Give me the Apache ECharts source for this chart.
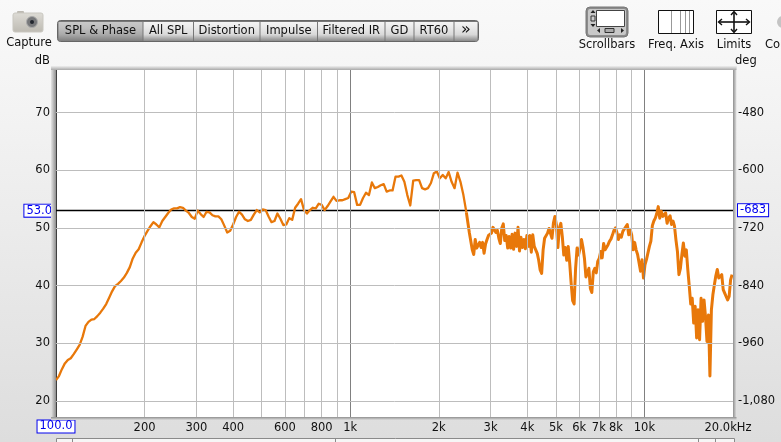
<!DOCTYPE html>
<html><head><meta charset="utf-8">
<style>
html,body{margin:0;padding:0;width:781px;height:442px;overflow:hidden;background:linear-gradient(180deg,#f9f9f9 0%,#f3f3f3 25%,#e6e6e6 70%,#dddddd 100%);}
#c{width:781px;height:442px;}
</style>
<script src="https://cdn.jsdelivr.net/npm/echarts@6/dist/echarts.min.js"></script>
</head><body><div id="c"></div>
<script>
// SPL in dB on a 1/30-octave grid starting at 100 Hz
const lowBandDb = [
23.6,24.3,25.5,26.5,27.1,27.4,28.1,28.9,29.7,31.1,
33.0,33.7,34.1,34.2,34.7,35.3,36.0,36.8,37.9,39.0,
39.9,40.3,40.8,41.4,42.2,43.2,44.7,45.7,46.3,47.5,
48.6,49.5,50.3,51.0,50.6,50.1,51.2,51.9,52.6,53.2,
53.4,53.4,53.6,53.5,53.0,52.6,51.9,51.6,
53.0,52.4,
51.9,52.8,52.7,52.2,52.0,52.0,51.5,50.4,49.2,49.5,
50.6,51.9,52.8,52.3,51.5,51.2,51.4,52.3,53.1,52.7,
53.2,53.1,52.0,51.0,51.2,52.5,51.6,50.5,50.6,51.7,
51.4,53.5,54.2,55.0,53.1,52.5,53.1,53.5,53.4,54.2,
54.0,53.1,53.8,54.6,55.4,54.7,54.8,54.8,55.0,55.2,
56.3,56.2,54.0,54.0,55.2,56.1,55.7,57.9,56.9,57.1,
57.4,57.6,56.3,56.5,56.5,58.9,58.9,59.1,58.0,55.7,
53.9,58.2,58.3,58.3,56.9,56.7,56.9,57.8,59.5,59.8,
58.6,59.2,58.6,59.7,58.0,56.9,59.6,58.0,55.7,52.7
];
// SPL in dB on a 1/60-octave grid, continuing from the low band
const highBandDb = [
49.2,48.9,46.2,45.4,48.0,46.5,47.0,47.5,46.6,47.5,
45.6,47.2,48.0,48.7,48.5,49.1,50.1,50.4,49.2,49.6,
48.2,47.3,50.0,50.7,47.8,48.7,46.5,48.5,46.5,48.9,
46.3,49.1,46.8,50.1,46.0,48.4,46.6,48.0,46.4,48.7,
46.8,48.7,45.8,48.8,46.8,46.5,45.6,44.4,42.7,42.1,
46.2,48.2,48.5,49.1,49.9,49.7,48.2,50.9,52.0,50.5,
46.6,50.0,50.8,48.5,45.3,46.6,44.4,46.8,43.9,40.4,
37.4,36.8,43.0,46.5,45.3,46.5,48.0,46.6,44.7,41.5,
42.1,43.0,39.5,38.8,42.4,43.0,
42.2,44.2,44.7,45.9,44.8,47.3,46.2,46.3,47.1,47.7,
48.1,48.8,49.6,50.0,49.2,48.0,48.8,48.4,49.4,49.2,
50.2,50.6,48.8,49.7,48.8,46.2,47.5,46.2,45.4,45.7,
42.5,44.5,41.3,43.6,44.5,44.5,46.8,47.7,50.4,51.2,
51.7,52.5,53.7,51.7,52.9,52.0,51.7,52.6,50.8,51.7,
52.1,50.6,51.2,50.3,47.9,45.9,41.9,43.0,45.4,47.4,
45.1,46.2,42.8,39.9,36.8,37.8,33.5,36.4,30.9,35.8,
30.6,37.8,33.8,37.5,34.6,30.3,34.9,24.3,35.8,38.4,
40.1,41.7,42.8,41.3,41.3,41.9,39.3,38.7,38.4,37.5,
38.1,41.0,41.9
];
const freqTicks = [200,300,400,500,600,700,800,900,1000,2000,3000,4000,5000,6000,7000,8000,9000,10000];
const freqLabels = {100:'100.0',200:'200',300:'300',400:'400',600:'600',800:'800',1000:'1k',2000:'2k',3000:'3k',4000:'4k',5000:'5k',6000:'6k',7000:'7k',8000:'8k',10000:'10k',20000:'20.0kHz'};
const decadeTicks = [1000,10000];
const splTicks = [20,30,40,50,60,70];
const phaseTicks = [-1080,-960,-840,-720,-600,-480];
const cursorDb = 53, cursorDeg = -683;
const tabs = [['SPL & Phase',58,143],['All SPL',143,193.5],['Distortion',193.5,260],['Impulse',260,317.5],['Filtered IR',317.5,385],['GD',385,414],['RT60',414,454],['»',454,478]];

const F0 = 100;
const lowCurve = lowBandDb.map((v,i)=>[F0*Math.pow(2,i/30),v]);
const highCurve = [lowCurve[lowCurve.length-1]].concat(highBandDb.map((v,j)=>[F0*Math.pow(2,140/30+j/60),v]));

const FONT = '"DejaVu Sans"';
const FS = 11.5;
const g = [];
function txt(t,x,y,align,extra){g.push({type:'text',z:20,style:Object.assign({text:t,x:x,y:y,align:align||'center',verticalAlign:'middle',font:FS+'px '+FONT,fill:'#111'},extra||{})});}
function rect(x,y,w,h,fill,stroke,r,z){g.push({type:'rect',z:z||10,shape:{x:x,y:y,width:w,height:h,r:r||0},style:{fill:fill,stroke:stroke||null,lineWidth:1}});}
function line(x1,y1,x2,y2,c,w){g.push({type:'line',z:15,shape:{x1:x1,y1:y1,x2:x2,y2:y2},style:{stroke:c,lineWidth:w||1}});}
function lg(cols,h){return {type:'linear',x:0,y:0,x2:h?1:0,y2:h?0:1,colorStops:cols.map((c,i)=>({offset:i/(cols.length-1),color:c}))};}

// plot frame shadows
rect(51,66,5,354,lg(['#e4e4e4','#8f8f8f'],true));
rect(733,66,3.5,354,lg(['#8f8f8f','#e0e0e0'],true));
rect(51,66,685.5,4,lg(['#eeeeee','#a8a8a8']));
rect(51,417,685.5,3,lg(['#8f8f8f','#dcdcdc']));

// tab bar
rect(57.5,20.5,421,21,'#777','#666',3);
tabs.forEach((t,i)=>{
  const sel=i===0;
  rect(t[1]+.5,22,t[2]-t[1]-1,19,lg(sel?['#c9c9c9','#bdbdbd','#a9a9a9','#7f7f7f']:['#f4f4f4','#e8e8e8','#d8d8d8','#8a8a8a']),null,0,11);
  txt(t[0],(t[1]+t[2])/2,i===7?30:31,'center',i===7?{font:'16px '+FONT}:null);
});

// capture
rect(17,11,7,3,'#bdbab2',null,1);
rect(13,13,30,19,lg(['#dedcd6','#bdbab2']),'#c9c7c0',2);
g.push({type:'circle',z:12,shape:{cx:32,cy:22,r:5.5},style:{fill:'#77787a',stroke:'#aaa'}});
g.push({type:'circle',z:13,shape:{cx:32,cy:22,r:2},style:{fill:'#22262e'}});
txt('Capture',29,43);

// scrollbars icon
rect(586,7,42,30,'#8b8b8b','#777',4);
rect(588,9,38,26,'#c8c8c8',null,2,11);
g.push({type:'rect',z:12,shape:{x:596.5,y:10.5,width:28,height:16},style:{fill:'#fff',stroke:'#444'}});
g.push({type:'rect',z:12,shape:{x:591,y:16,width:4,height:5},style:{fill:'#ccc',stroke:'#333'}});
g.push({type:'rect',z:12,shape:{x:605,y:28.5,width:9,height:4},style:{fill:'#aaa',stroke:'#333'}});
g.push({type:'polygon',z:12,shape:{points:[[593,10],[590.5,13],[595.5,13]]},style:{fill:'#222'}});
g.push({type:'polygon',z:12,shape:{points:[[593,27],[590.5,24],[595.5,24]]},style:{fill:'#222'}});
g.push({type:'polygon',z:12,shape:{points:[[597,30.5],[600,28],[600,33]]},style:{fill:'#222'}});
g.push({type:'polygon',z:12,shape:{points:[[624,30.5],[621,28],[621,33]]},style:{fill:'#222'}});
txt('Scrollbars',607,45);

// freq axis icon
g.push({type:'rect',z:12,shape:{x:658.5,y:10.5,width:35,height:23},style:{fill:'#fff',stroke:'#111'}});
[671,680,685,689].forEach(x=>line(x+.5,11,x+.5,33,'#999'));
txt('Freq. Axis',676,45);

// limits icon
g.push({type:'rect',z:12,shape:{x:716.5,y:10.5,width:35,height:23},style:{fill:'#fff',stroke:'#111'}});
line(719,22,749,22,'#111',1.6); line(734,12,734,32,'#111',1.6);
g.push({type:'polyline',z:16,shape:{points:[[722,19],[718.5,22],[722,25]]},style:{stroke:'#111',lineWidth:1.4,fill:null}});
g.push({type:'polyline',z:16,shape:{points:[[746,19],[749.5,22],[746,25]]},style:{stroke:'#111',lineWidth:1.4,fill:null}});
g.push({type:'polyline',z:16,shape:{points:[[731,15],[734,11.5],[737,15]]},style:{stroke:'#111',lineWidth:1.4,fill:null}});
g.push({type:'polyline',z:16,shape:{points:[[731,29],[734,32.5],[737,29]]},style:{stroke:'#111',lineWidth:1.4,fill:null}});
txt('Limits',734,45);
txt('Controls',765,45,'left');
g.push({type:'circle',z:12,shape:{cx:783,cy:22,r:6},style:{fill:'#c4c4c4'}});

txt('dB',50,61,'right');
txt('deg',735,61,'left');

// bottom scrollbar
rect(56.5,438.5,678,8,'#f6f6f6','#8a8a8a');
line(72.5,438,72.5,442,'#8a8a8a');
line(335.5,438,335.5,442,'#8a8a8a');
line(698.5,438,698.5,442,'#8a8a8a');
line(715.5,438,715.5,442,'#8a8a8a');

const boxStyle={color:'#0000ee',backgroundColor:'#fff',borderColor:'#0000ee',borderWidth:1,padding:[0,2,0,2],fontFamily:FONT,fontSize:FS,lineHeight:11};

const option={
  animation:false,
  textStyle:{fontFamily:FONT},
  grid:{left:56,top:70,width:677,height:347,show:true,backgroundColor:'#fff',borderWidth:0},
  xAxis:{type:'log',logBase:10,min:100,max:20000,
    axisLine:{show:false},axisTick:{show:false},
    axisLabel:{show:false},
    splitLine:{show:false},minorTick:{show:false},minorSplitLine:{show:false}},
  yAxis:[
   {type:'value',min:17.2,max:77.4,
    axisLine:{show:true,lineStyle:{color:'#000',width:1.5}},axisTick:{show:false},
    axisLabel:{customValues:splTicks,color:'#111',fontSize:FS,margin:6,fontFamily:FONT,showMinLabel:true,showMaxLabel:true},
    splitLine:{show:false}},
   {type:'value',min:-1113.6,max:-391.2,position:'right',
    axisLine:{show:false},axisTick:{show:false},
    axisLabel:{customValues:phaseTicks,color:'#111',fontSize:FS,margin:5,fontFamily:FONT,
      formatter:v=>String(v).replace(/(\d)(\d{3})$/,'$1,$2')},
    splitLine:{show:false}}
  ],
  graphic:{elements:g},
  series:[
   {type:'line',name:'grid',z:1,data:[],silent:true,
    markLine:{silent:true,symbol:'none',animation:false,precision:6,
      data:freqTicks.concat([100,20000]).map(f=>({
        xAxis:f,
        lineStyle:{color:f===100||f===20000?'rgba(0,0,0,0)':(decadeTicks.includes(f)?'#808080':'#bdbdbd'),width:1,type:'solid'},
        label:{show:!!freqLabels[f],position:'start',distance:f===100?4:5,
          formatter:f===100?'{b|100.0}':(f===20000?'{e|20.0kHz}':(freqLabels[f]||'')),
          color:'#111',fontSize:FS,fontFamily:FONT,
          rich:{b:boxStyle,e:{color:'#111',fontSize:FS,fontFamily:FONT,padding:[0,10,0,0]}}}
      })).concat(splTicks.map(v=>({
        yAxis:v,lineStyle:{color:'#bdbdbd',width:1,type:'solid'},label:{show:false}
      })))
    }},
   {type:'line',name:'SPL',z:4,data:lowCurve,showSymbol:false,symbol:'none',smooth:false,
    lineStyle:{color:'#e8780a',width:2.3,join:'round'},
    markLine:{silent:true,symbol:'none',animation:false,z:3,
      data:[{yAxis:cursorDb,lineStyle:{color:'#000',width:1.3,type:'solid'},
        label:{position:'start',distance:2,formatter:'{b|'+cursorDb.toFixed(1)+'}',rich:{b:boxStyle}}}]}},
   {type:'line',name:'SPL high',z:4,data:highCurve,showSymbol:false,symbol:'none',smooth:false,
    lineStyle:{color:'#e8780a',width:3,join:'round'}},
   {type:'line',name:'Phase',z:3,yAxisIndex:1,data:[],
    markLine:{silent:true,symbol:'none',animation:false,
      data:[{yAxis:cursorDeg,lineStyle:{color:'rgba(0,0,0,0)',width:1},
        label:{position:'end',distance:5,formatter:'{b|'+cursorDeg+'}',rich:{b:boxStyle}}}]}}
  ]
};
echarts.init(document.getElementById('c'),null,{renderer:'canvas'}).setOption(option);
</script></body></html>
